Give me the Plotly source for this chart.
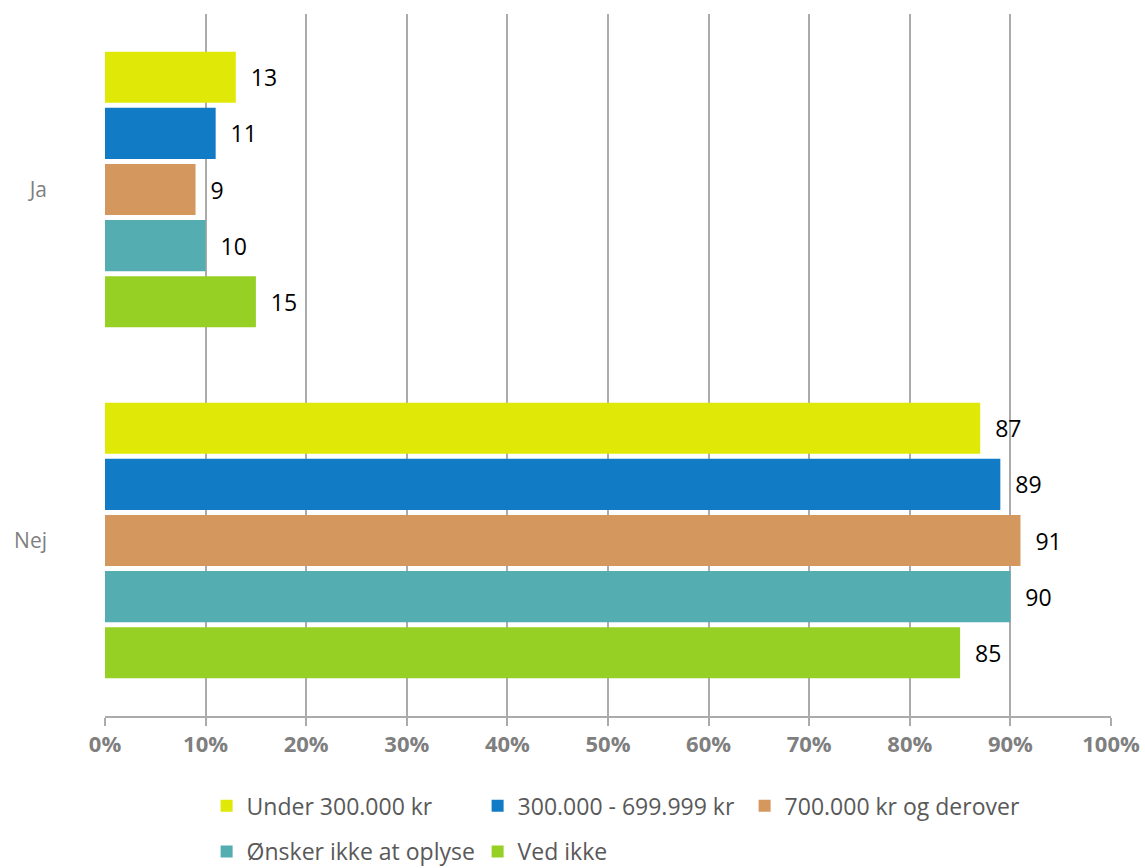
import plotly.graph_objects as go

categories = ["Ja", "Nej"]
series_names = ["Under 300.000 kr", "300.000 - 699.999 kr", "700.000 kr og derover",
                "Ønsker ikke at oplyse", "Ved ikke"]
series_values = [
    [13, 87],
    [11, 89],
    [9, 91],
    [10, 90],
    [15, 85],
]
colors = ["#dfe806", "#127bc6", "#d4975d", "#54adb1", "#97d025"]
legend_ids = ["legend", "legend", "legend", "legend2", "legend2"]
legend_widths = [226, 222, 260, 226, 120]
x_ticks = list(range(0, 101, 10))
x_tick_labels = [f"{v}%" for v in x_ticks]

FONT = "Open Sans"
fig = go.Figure()
for name, vals, col, lg, lw in zip(series_names, series_values, colors, legend_ids, legend_widths):
    fig.add_trace(go.Bar(
        y=categories, x=vals, name=name, orientation="h",
        marker=dict(color=col, line=dict(width=0)),
        text=[str(v) for v in vals], texttemplate="\u00a0\u00a0%{text}",
        textposition="outside", cliponaxis=False,
        textfont=dict(family=FONT, size=23, color="#000000"),
        legend=lg, legendwidth=lw,
    ))

fig.update_layout(
    width=1145, height=868,
    margin=dict(l=105, r=34, t=14, b=152, autoexpand=False),
    paper_bgcolor="white", plot_bgcolor="white",
    barmode="group", bargap=0.2, bargroupgap=0.09,
    font=dict(family=FONT, color="#595959"),
    xaxis=dict(
        range=[0, 100], tickvals=x_ticks, ticktext=x_tick_labels,
        showgrid=True, gridcolor="#ababab", gridwidth=1.5,
        zeroline=False, showline=True, linecolor="#ababab", linewidth=1.5,
        ticks="outside", ticklen=8, tickcolor="#ababab", tickwidth=1.5,
        tickfont=dict(family=FONT, size=22, color="#7f7f7f", weight="bold"),
        automargin=False,
    ),
    yaxis=dict(
        categoryorder="array", categoryarray=categories,
        autorange="reversed", showgrid=False, zeroline=False, showline=False,
        ticks="", ticklabelstandoff=57,
        tickfont=dict(family=FONT, size=21, color="#7f7f7f"),
        automargin=False,
    ),
    legend=dict(orientation="h", x=0.101, xanchor="left", y=-0.128, yanchor="middle",
                font=dict(family=FONT, size=23, color="#595959"),
                bgcolor="rgba(0,0,0,0)"),
    legend2=dict(orientation="h", x=0.101, xanchor="left", y=-0.193, yanchor="middle",
                 font=dict(family=FONT, size=23, color="#595959"),
                 bgcolor="rgba(0,0,0,0)"),
)

fig.write_html("out.html", config={"displayModeBar": False},
               post_script="document.body.style.margin='0px';")
